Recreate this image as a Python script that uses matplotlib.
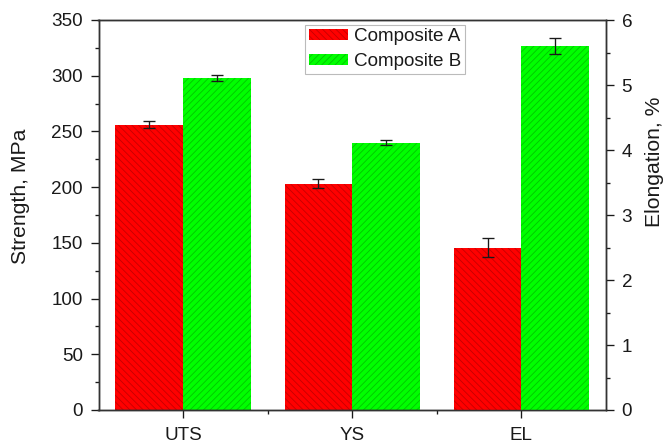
import numpy as np
import matplotlib
matplotlib.use("Agg")
import matplotlib.pyplot as plt

plt.rcParams["font.family"] = ["Liberation Sans", "DejaVu Sans"]
plt.rcParams["hatch.linewidth"] = 0.8

categories = ["UTS", "YS", "EL"]
series_names = ["Composite A", "Composite B"]

# Strength (MPa) for UTS and YS
strength_a = [256, 203]
strength_a_err = [3, 4]
strength_b = [298, 240]
strength_b_err = [2.5, 2.5]

# Elongation (%) for EL
elong_a = [2.5]
elong_a_err = [0.15]
elong_b = [5.6]
elong_b_err = [0.12]

color_a = "#ff0000"
color_b = "#00ff00"
hatch_col = (0, 0, 0, 0.22)
text_col = "#1a1a1a"
hatch_a = "\\" * 4
hatch_b = "/" * 4

dpi = 80
fig = plt.figure(figsize=(666 / dpi, 443 / dpi), dpi=dpi)
ax1 = fig.add_axes([98.5 / 666, 1 - 410 / 443, (606 - 98.5) / 666, 390 / 443])
ax2 = ax1.twinx()

x = np.arange(len(categories))
w = 0.4
err_kw = dict(ecolor=text_col, elinewidth=1.2, capsize=5.5, capthick=1.2)

xs = x[:2]
xe = x[2:]
ax1.bar(xs - w / 2, strength_a, w, yerr=strength_a_err, color=color_a,
        edgecolor=hatch_col, linewidth=0, hatch=hatch_a, error_kw=err_kw,
        label=series_names[0])
ax1.bar(xs + w / 2, strength_b, w, yerr=strength_b_err, color=color_b,
        edgecolor=hatch_col, linewidth=0, hatch=hatch_b, error_kw=err_kw,
        label=series_names[1])
ax2.bar(xe - w / 2, elong_a, w, yerr=elong_a_err, color=color_a,
        edgecolor=hatch_col, linewidth=0, hatch=hatch_a, error_kw=err_kw)
ax2.bar(xe + w / 2, elong_b, w, yerr=elong_b_err, color=color_b,
        edgecolor=hatch_col, linewidth=0, hatch=hatch_b, error_kw=err_kw)

ax1.set_xlim(-0.5, 2.5)
ax1.set_ylim(0, 350)
ax2.set_ylim(0, 6)

ax1.set_xticks(x)
ax1.set_xticklabels(categories)
ax1.set_xticks([0.5, 1.5], minor=True)
ax1.set_yticks(np.arange(0, 351, 50))
ax1.set_yticks(np.arange(25, 350, 50), minor=True)
ax2.set_yticks(np.arange(0, 7, 1))
ax2.set_yticks(np.arange(0.5, 6, 1), minor=True)

fs = 17
for ax in (ax1, ax2):
    ax.tick_params(which="major", direction="out", length=7, width=1.2,
                   labelsize=fs, pad=7, colors=text_col)
    ax.tick_params(which="minor", direction="out", length=3.6, width=1.2,
                   colors=text_col)
    for s in ax.spines.values():
        s.set_linewidth(1.3)
        s.set_color("#333333")
ax1.tick_params(axis="x", which="major", pad=8)

ax1.set_ylabel("Strength, MPa", fontsize=19, color=text_col)
ax2.set_ylabel("Elongation, %", fontsize=19, color=text_col)
ax1.yaxis.set_label_coords(-0.135, 0.549)
ax2.yaxis.set_label_coords(1.077, 0.636)

handles, labels = ax1.get_legend_handles_labels()
leg = ax2.legend(handles, labels, loc="upper right",
                 bbox_to_anchor=(0.722, 0.988), fontsize=fs,
                 frameon=True, fancybox=False, edgecolor="#aaaaaa",
                 handlelength=2.1, handleheight=0.55, handletextpad=0.3,
                 borderpad=0.2, labelspacing=0.4, borderaxespad=0)
leg.get_frame().set_linewidth(1.0)
for t in leg.get_texts():
    t.set_color(text_col)

fig.savefig("out.png", dpi=dpi)
